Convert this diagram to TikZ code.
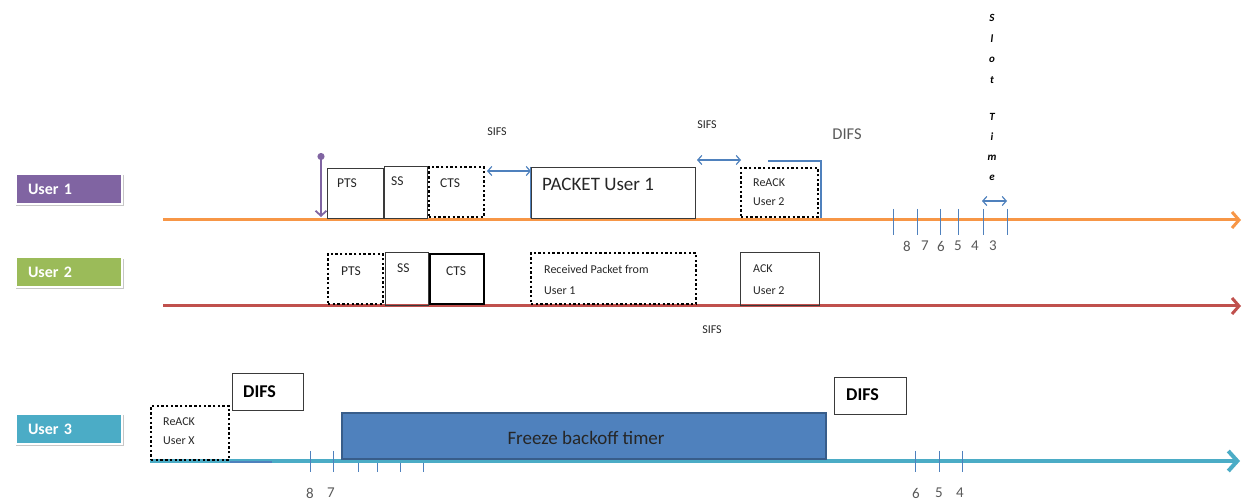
\documentclass[tikz,border=0pt]{standalone}
\usepackage{fontspec}
\setmainfont{Carlito}
\usetikzlibrary{arrows.meta,fit,shadows}
\definecolor{upurple}{HTML}{8064A2}
\definecolor{ugreen}{HTML}{9BBB59}
\definecolor{ucyan}{HTML}{4BACC6}
\definecolor{uorange}{HTML}{F79646}
\definecolor{ured}{HTML}{C0504D}
\definecolor{ublue}{HTML}{4F81BD}
\definecolor{udblue}{HTML}{385D8A}
\definecolor{ugrey}{HTML}{595959}
\definecolor{uedge}{HTML}{3A3A3A}
\begin{document}
\begin{tikzpicture}[x=1pt,y=-1pt,
  userlbl/.style={rectangle, draw=white, line width=2pt, minimum width=106pt, minimum height=30pt,
    text width=82pt, inner xsep=12pt, align=left, text=white,
    font=\fontsize{16}{18}\selectfont\bfseries,
    drop shadow={shadow xshift=0.8pt, shadow yshift=-1.5pt, shadow scale=1.02, opacity=0.22, fill=black}},
  fbox/.style={draw=uedge, line width=0.9pt, inner sep=0pt},
  dbox/.style={draw=black, line width=2.4pt, dash pattern=on 2.4pt off 2.3pt, inner sep=0pt},
  tbox/.style={draw=black, line width=2.6pt, inner sep=0pt},
  lbl/.style={inner sep=0pt, anchor=west, font=\fontsize{12}{13}\selectfont, text=black!85},
  tri/.style={inner sep=0pt, anchor=west, font=\fontsize{13.5}{15}\selectfont, text=black!85},
  small/.style={inner sep=0pt, font=\fontsize{12}{13}\selectfont, text=black!85},
  num/.style={inner sep=0pt, font=\fontsize{15}{17}\selectfont, text=ugrey},
  slot/.style={inner sep=0pt, font=\fontsize{11}{12}\selectfont\bfseries\itshape},
  sifsarrow/.style={draw=ublue, line width=1.2pt, {Straight Barb[length=4pt,width=9pt]}-{Straight Barb[length=4pt,width=9pt]}},
  tick/.style={draw=ublue, line width=1pt},
  bold/.style={inner sep=0pt, anchor=west, font=\fontsize{18}{20}\selectfont\bfseries}
]
\useasboundingbox (0,0) rectangle (1243,502);

% ---------- user labels ----------
\node[userlbl, fill=upurple] (u1) at (69,189) {User 1};
\node[userlbl, fill=ugreen] (u2) at (69,272.5) {User 2};
\node[userlbl, fill=ucyan] (u3) at (69,429) {User 3};

% ---------- time lines ----------
\coordinate (l1s) at (163,220); \coordinate (l1e) at (1241,220);
\coordinate (l2s) at (163,306); \coordinate (l2e) at (1241,306);
\coordinate (l3s) at (150,461); \coordinate (l3e) at (1240,461);
\draw[uorange, line width=3pt, -{Straight Barb[length=7pt,width=16pt]}] (l1s) -- (l1e);
\draw[ured, line width=3pt, -{Straight Barb[length=7pt,width=16pt]}] (l2s) -- (l2e);
\draw[ucyan, line width=4pt, -{Straight Barb[length=9pt,width=20pt]}] (l3s) -- (l3e);

% ---------- User 1 row ----------
\coordinate (pdot) at (321,153); \coordinate (pend) at (321,217);
\draw[upurple, line width=1.8pt, {Circle[length=7pt]}-{Straight Barb[length=5pt,width=11pt]}] (pdot) -- (pend);

\node[fbox, fit={(327,168)(383,218)}] (pts1) {};
\node[fbox, fit={(384,166)(427,218)}] (ss1) {};
\node[dbox, fit={(429,167)(484,217)}] (cts1) {};
\node[fbox, fit={(531,167)(695,218)}] (pkt1) {};
\node[dbox, fit={(741,168)(818,217)}] (rack1) {};
\node[tri] (tpts1) at (337,183) {PTS};
\node[tri] (tss1) at (391,181) {SS};
\node[tri] (tcts1) at (440,183) {CTS};
\node[lbl, font=\fontsize{19}{21}\selectfont] (tpkt1) at (542,184) {PACKET User 1};
\node[lbl] (track1a) at (753,183) {ReACK};
\node[lbl] (track1b) at (753,202) {User 2};

% blue edges
\draw[ublue, line width=1.2pt] (pkt1.north west) -- (pkt1.south west);
\coordinate (rb1) at (768,161); \coordinate (rb2) at (821,161); \coordinate (rb3) at (821,218);
\draw[ublue, line width=1.2pt] (rb1) -- (rb2) -- (rb3);

% SIFS arrows
\coordinate (s1a) at (487,171); \coordinate (s1b) at (531,171);
\draw[sifsarrow] (s1a) -- (s1b);
\node[small] (sifs1) at (497,132) {SIFS};
\coordinate (s2a) at (697,160); \coordinate (s2b) at (741,160);
\draw[sifsarrow] (s2a) -- (s2b);
\node[small] (sifs2) at (707,125) {SIFS};
\node[inner sep=0pt, font=\fontsize{16.5}{18}\selectfont, text=ugrey] (difs1) at (847,134) {DIFS};

% ticks user 1
\foreach \x [count=\i] in {893,917,940,958,983,1007} {
  \coordinate (t1a\i) at (\x,209); \coordinate (t1b\i) at (\x,235);
  \draw[tick] (t1a\i) -- (t1b\i);
}
\foreach \x/\n in {907/8,925/7,941/6,958/5,975/4,993/3} {
  \node[num] (n1\n) at (\x,246) {\n};
}
\coordinate (sta) at (982,201); \coordinate (stb) at (1007,201);
\draw[sifsarrow] (sta) -- (stb);
\foreach \y/\c in {18/S,39/l,60/o,80/t,117/T,137/i,158/m,178/e} {
  \node[slot] (sl\y) at (992,\y) {\c};
}

% ---------- User 2 row ----------
\node[dbox, fit={(328,254)(383,304)}] (pts2) {};
\node[fbox, fit={(385,252)(428,305)}] (ss2) {};
\node[tbox, fit={(430,254)(484,304)}] (cts2) {};
\node[dbox, fit={(531,253)(696,304)}] (rec2) {};
\node[fbox, fit={(740,252)(819,305)}] (ack2) {};
\node[tri] (tpts2) at (341,271) {PTS};
\node[tri] (tss2) at (397,268) {SS};
\node[tri] (tcts2) at (446,271) {CTS};
\node[lbl] (trec2a) at (544,269) {Received Packet from};
\node[lbl] (trec2b) at (544,291) {User 1};
\node[lbl] (tack2a) at (753,269) {ACK};
\node[lbl] (tack2b) at (753,291) {User 2};
\node[small] (sifs3) at (712,330) {SIFS};

% ---------- User 3 row ----------
\node[dbox, fit={(151,406)(229,460)}] (rackx) {};
\node[lbl] (trackxa) at (163,422) {ReACK};
\node[lbl] (trackxb) at (163,441) {User X};
\coordinate (dbl1) at (230,462); \coordinate (dbl2) at (272,462);
\draw[ublue, line width=1.3pt] (dbl1) -- (dbl2);
\node[fbox, fit={(232,373)(303,410)}] (difs3a) {};
\node[bold] (tdifs3a) at (243,392) {DIFS};
\node[fbox, fit={(834,377)(906,414)}] (difs3b) {};
\node[bold] (tdifs3b) at (846,395) {DIFS};

\foreach \x [count=\i] in {310,333,915,939,962} {
  \coordinate (t3a\i) at (\x,451); \coordinate (t3b\i) at (\x,472);
  \draw[tick] (t3a\i) -- (t3b\i);
}
\foreach \x [count=\i] in {358,377,400,423} {
  \coordinate (t3c\i) at (\x,463); \coordinate (t3d\i) at (\x,472);
  \draw[tick] (t3c\i) -- (t3d\i);
}
\foreach \x/\n in {310/8,331/7,916/6,939/5,960/4} {
  \node[num] (n3\n) at (\x,493) {\n};
}

\node[draw=udblue, fill=ublue, line width=1.5pt, inner sep=0pt, fit={(342,413)(826,459)}] (freeze) {};
\node[inner sep=0pt, font=\fontsize{19}{21}\selectfont, text=black!85] (tfreeze) at (586,438) {Freeze backoff timer};

\end{tikzpicture}
\end{document}
